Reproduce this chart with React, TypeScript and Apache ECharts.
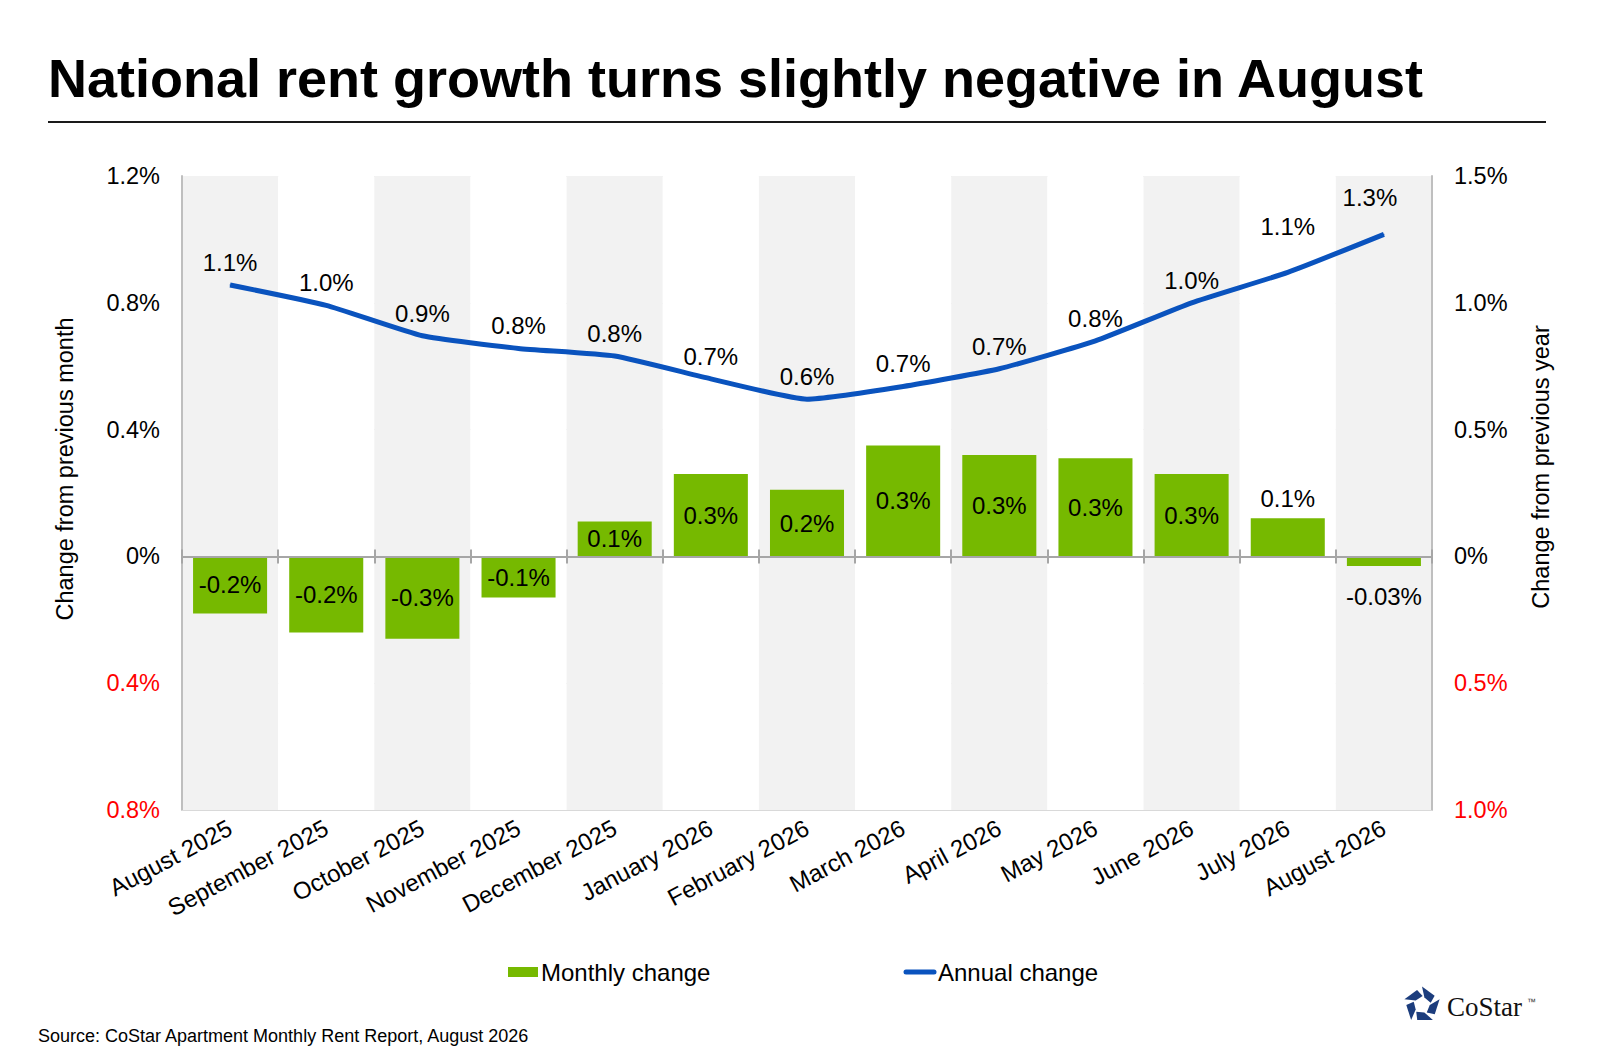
import React, { useEffect, useRef } from "react";
import * as echarts from "echarts";

const months = [
  "August 2025", "September 2025", "October 2025", "November 2025", "December 2025",
  "January 2026", "February 2026", "March 2026", "April 2026", "May 2026",
  "June 2026", "July 2026", "August 2026",
];
const monthlyChange = [-0.18, -0.24, -0.26, -0.13, 0.11, 0.26, 0.21, 0.35, 0.32, 0.31, 0.26, 0.12, -0.03];
const monthlyLabels = ["-0.2%", "-0.2%", "-0.3%", "-0.1%", "0.1%", "0.3%", "0.2%", "0.3%", "0.3%", "0.3%", "0.3%", "0.1%", "-0.03%"];
const annualChange = [1.07, 0.99, 0.87, 0.82, 0.79, 0.7, 0.62, 0.67, 0.74, 0.85, 1.0, 1.12, 1.27];
const annualLabels = ["1.1%", "1.0%", "0.9%", "0.8%", "0.8%", "0.7%", "0.6%", "0.7%", "0.7%", "0.8%", "1.0%", "1.1%", "1.3%"];
const leftTicks = [-0.8, -0.4, 0, 0.4, 0.8, 1.2];
const leftTickLabels = ["0.8%", "0.4%", "0%", "0.4%", "0.8%", "1.2%"];
const rightTicks = [-1.0, -0.5, 0, 0.5, 1.0, 1.5];
const rightTickLabels = ["1.0%", "0.5%", "0%", "0.5%", "1.0%", "1.5%"];

const titleText = "National rent growth turns slightly negative in August";
const sourceText = "Source: CoStar Apartment Monthly Rent Report, August 2026";
const leftAxisName = "Change from previous month";
const rightAxisName = "Change from previous year";
const seriesNames = ["Monthly change", "Annual change"];

const FONT = "'Liberation Sans', Arial, Helvetica, sans-serif";
const GREEN = "#76b900";
const BLUE = "#0a53be";
const NAVY = "#1c3d7d";

function tickFormatter(ticks: number[], labels: string[]) {
  return (v: number) => {
    const i = ticks.findIndex((t) => Math.abs(t - v) < 1e-6);
    const txt = i >= 0 ? labels[i] : "";
    return v < -1e-9 ? `{neg|${txt}}` : txt;
  };
}

function logoPieces(cx: number, cy: number, R: number) {
  const pieces: any[] = [];
  const r = R * 0.42;
  for (let k = 0; k < 5; k++) {
    const a0 = ((-90 + 72 * k) * Math.PI) / 180;
    const a1 = ((-90 + 72 * (k + 1)) * Math.PI) / 180;
    const v0 = [cx + R * Math.cos(a0), cy + R * Math.sin(a0)];
    const v1 = [cx + R * Math.cos(a1), cy + R * Math.sin(a1)];
    const t = 0.72;
    const e = [v0[0] + (v1[0] - v0[0]) * t, v0[1] + (v1[1] - v0[1]) * t];
    const b0 = a0 + (18 * Math.PI) / 180;
    const b1 = a1 + (4 * Math.PI) / 180;
    const w0 = [cx + r * Math.cos(b0), cy + r * Math.sin(b0)];
    const w1 = [cx + r * 1.15 * Math.cos(b1), cy + r * 1.15 * Math.sin(b1)];
    pieces.push({
      type: "polygon",
      shape: { points: [v0, e, w1, w0] },
      style: { fill: NAVY },
    });
  }
  return pieces;
}

export default function App() {
  const ref = useRef<HTMLDivElement>(null);

  useEffect(() => {
    if (!ref.current) return;
    const chart = echarts.init(ref.current, undefined, { renderer: "svg" });

    const barData = monthlyChange.map((v, i) => {
      const item: any = { value: v };
      if (i === 11) item.label = { position: "top", distance: 8 };
      if (i === 12) item.label = { position: "bottom", distance: 19 };
      return item;
    });
    const lineData = annualChange.map((v, i) => {
      const item: any = { value: v };
      if (i === 11) item.label = { distance: 33 };
      if (i === 12) item.label = { distance: 24, offset: [-14, 0] };
      return item;
    });

    const axisLabelBase = {
      fontSize: 23.5,
      fontFamily: FONT,
      color: "#000",
      margin: 22,
      rich: { neg: { color: "#ff0000", fontSize: 23.5, fontFamily: FONT } },
    };

    const option: any = {
      animation: false,
      backgroundColor: "#ffffff",
      textStyle: { fontFamily: FONT },
      title: {
        text: titleText,
        left: 43,
        top: 46,
        textStyle: { fontSize: 54, fontWeight: "bold", color: "#000", fontFamily: FONT },
      },
      grid: { left: 182, right: 168, top: 176, bottom: 247, containLabel: false, outerBoundsMode: "none" },
      xAxis: [
        {
          type: "category",
          data: months,
          position: "bottom",
          axisLine: { show: true, onZero: false, lineStyle: { color: "#d9d9d9", width: 1 } },
          axisTick: { show: false },
          axisLabel: {
            interval: 0,
            rotate: 28,
            fontSize: 24,
            fontFamily: FONT,
            color: "#000",
            margin: 16,
          },
          splitLine: { show: false },
          splitArea: { show: true, interval: 0, areaStyle: { color: ["#f2f2f2", "#ffffff"] } },
        },
        {
          type: "category",
          data: months,
          position: "bottom",
          axisLine: { show: true, onZero: true, onZeroAxisIndex: 0, lineStyle: { color: "#a6a6a6", width: 2 } },
          axisTick: { show: true, interval: 0, length: 7, inside: false, lineStyle: { color: "#a6a6a6", width: 2 } },
          axisLabel: { show: false },
          splitLine: { show: false },
          splitArea: { show: false },
          z: 5,
        },
        {
          type: "category",
          data: months,
          position: "bottom",
          axisLine: { show: false, onZero: true, onZeroAxisIndex: 0 },
          axisTick: { show: true, interval: 0, length: 7, inside: true, lineStyle: { color: "#a6a6a6", width: 2 } },
          axisLabel: { show: false },
          splitLine: { show: false },
          splitArea: { show: false },
          z: 5,
        },
      ],
      yAxis: [
        {
          type: "value",
          position: "left",
          min: -0.8,
          max: 1.2,
          interval: 0.4,
          axisLine: { show: true, onZero: false, lineStyle: { color: "#bfbfbf", width: 2 } },
          axisTick: { show: false },
          axisLabel: { ...axisLabelBase, formatter: tickFormatter(leftTicks, leftTickLabels) },
          splitLine: { show: true, lineStyle: { color: "#e8e8e8", width: 1 } },
        },
        {
          type: "value",
          position: "right",
          min: -1.0,
          max: 1.5,
          interval: 0.5,
          axisLine: { show: true, onZero: false, lineStyle: { color: "#bfbfbf", width: 2 } },
          axisTick: { show: false },
          axisLabel: { ...axisLabelBase, formatter: tickFormatter(rightTicks, rightTickLabels) },
          splitLine: { show: false },
        },
      ],
      series: [
        {
          name: seriesNames[0],
          type: "bar",
          xAxisIndex: 0,
          yAxisIndex: 0,
          data: barData,
          barWidth: "77%",
          itemStyle: { color: GREEN },
          label: {
            show: true,
            position: "inside",
            fontSize: 24,
            fontFamily: FONT,
            color: "#000",
            formatter: (p: any) => monthlyLabels[p.dataIndex],
          },
          z: 2,
        },
        {
          name: seriesNames[1],
          type: "line",
          xAxisIndex: 0,
          yAxisIndex: 1,
          data: lineData,
          smooth: 0.15,
          symbol: "circle",
          symbolSize: 1,
          itemStyle: { color: BLUE },
          lineStyle: { color: BLUE, width: 5 },
          label: {
            show: true,
            position: "top",
            distance: 10,
            fontSize: 24,
            fontFamily: FONT,
            color: "#000",
            formatter: (p: any) => annualLabels[p.dataIndex],
          },
          z: 4,
        },
      ],
      graphic: [
        {
          type: "line",
          shape: { x1: 48, y1: 122, x2: 1546, y2: 122 },
          style: { stroke: "#1a1a1a", lineWidth: 2 },
        },
        {
          type: "text",
          x: 65,
          y: 469,
          rotation: Math.PI / 2,
          style: { text: leftAxisName, fontSize: 23.5, fontFamily: FONT, fill: "#000", align: "center", verticalAlign: "middle" },
        },
        {
          type: "text",
          x: 1541,
          y: 467,
          rotation: Math.PI / 2,
          style: { text: rightAxisName, fontSize: 23.5, fontFamily: FONT, fill: "#000", align: "center", verticalAlign: "middle" },
        },
        {
          type: "rect",
          shape: { x: 508, y: 967, width: 30, height: 10 },
          style: { fill: GREEN },
        },
        {
          type: "text",
          x: 541,
          y: 972,
          style: { text: seriesNames[0], fontSize: 24, fontFamily: FONT, fill: "#000", align: "left", verticalAlign: "middle" },
        },
        {
          type: "line",
          shape: { x1: 906, y1: 972, x2: 934, y2: 972 },
          style: { stroke: BLUE, lineWidth: 5, lineCap: "round" },
        },
        {
          type: "text",
          x: 938,
          y: 972,
          style: { text: seriesNames[1], fontSize: 24, fontFamily: FONT, fill: "#000", align: "left", verticalAlign: "middle" },
        },
        {
          type: "text",
          x: 38,
          y: 1036,
          style: { text: sourceText, fontSize: 18, fontFamily: FONT, fill: "#000", align: "left", verticalAlign: "middle" },
        },
        ...logoPieces(1422, 1005, 18.5),
        {
          type: "text",
          x: 1447,
          y: 1007,
          style: { text: "CoStar", fontSize: 27, fontFamily: "'Liberation Serif', 'Times New Roman', serif", fill: "#111", align: "left", verticalAlign: "middle" },
        },
        {
          type: "text",
          x: 1527,
          y: 1002,
          style: { text: "™", fontSize: 9, fontFamily: FONT, fill: "#333", align: "left", verticalAlign: "middle" },
        },
      ],
    };

    chart.setOption(option);
    return () => chart.dispose();
  }, []);

  return (
    <div
      ref={ref}
      style={{ position: "absolute", left: 0, top: 0, width: 1600, height: 1057, background: "#fff" }}
    />
  );
}
